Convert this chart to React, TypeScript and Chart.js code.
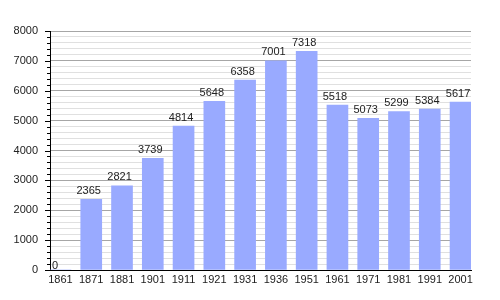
import React, { useEffect, useRef } from "react";
import { Chart, registerables } from "chart.js";

Chart.register(...registerables);

const years = ["1861", "1871", "1881", "1901", "1911", "1921", "1931", "1936", "1951", "1961", "1971", "1981", "1991", "2001"];
const population = [0, 2365, 2821, 3739, 4814, 5648, 6358, 7001, 7318, 5518, 5073, 5299, 5384, 5617];
const yMax = 8000;
const yMajorStep = 1000;
const yMinorStep = 200;

const FONT = "'Liberation Sans', Arial, sans-serif";

const overlayPlugin = {
  id: "overlay",
  afterDraw(chart: any) {
    const { ctx, scales } = chart;
    const y = scales.y;
    const left = chart.chartArea.left;
    ctx.save();
    ctx.strokeStyle = "#000";
    ctx.lineWidth = 1;
    for (let v = 0; v <= yMax; v += yMinorStep) {
      const py = Math.round(y.getPixelForValue(v)) + 0.5;
      const len = v % yMajorStep === 0 ? 5 : 3;
      ctx.beginPath();
      ctx.moveTo(left - len, py);
      ctx.lineTo(left, py);
      ctx.stroke();
    }
    ctx.restore();
  },
  afterDatasetsDraw(chart: any) {
    const { ctx } = chart;
    const meta = chart.getDatasetMeta(0);
    ctx.save();
    ctx.font = `11px ${FONT}`;
    ctx.fillStyle = "#222";
    ctx.textBaseline = "bottom";
    meta.data.forEach((el: any, i: number) => {
      const v = population[i];
      const txt = String(v);
      if (v === 0) {
        ctx.textAlign = "left";
        ctx.fillText(txt, el.x - el.width / 2 + 2, el.y + 1);
      } else {
        ctx.textAlign = "center";
        ctx.fillText(txt, el.x - 2.5, el.y - 3);
      }
    });
    ctx.restore();
  },
};

export default function App() {
  const ref = useRef<HTMLCanvasElement>(null);
  useEffect(() => {
    document.body.style.margin = "0";
    const canvas = ref.current!;
    const chart = new Chart(canvas, {
      type: "bar",
      data: {
        datasets: [
          {
            data: population.map((v, i) => ({ x: i, y: v })),
            backgroundColor: "#99aaff",
            borderWidth: 0,
            barThickness: 21,
          },
        ],
      },
      options: {
        responsive: false,
        animation: false,
        layout: { padding: { top: 31, right: 29, left: 0, bottom: 0 } },
        plugins: { legend: { display: false }, tooltip: { enabled: false } },
        scales: {
          x: {
            type: "linear",
            offset: false,
            min: -0.34,
            max: 13.34,
            afterBuildTicks: (scale: any) => {
              scale.ticks = years.map((_, i) => ({ value: i }));
            },
            afterFit: (scale: any) => {
              scale.height = 30;
            },
            grid: { display: false, drawTicks: false, offset: false },
            border: { color: "#000", width: 1 },
            ticks: {
              autoSkip: false,
              maxRotation: 0,
              padding: 3,
              color: "#222",
              font: { family: FONT, size: 11 },
              callback: (v: any) => years[v as number] ?? "",
            },
          },
          y: {
            min: 0,
            max: yMax,
            afterBuildTicks: (scale: any) => {
              const t = [];
              for (let v = 0; v <= yMax; v += yMinorStep) t.push({ value: v });
              scale.ticks = t;
            },
            afterFit: (scale: any) => {
              scale.width = 50;
            },
            grid: {
              drawTicks: false,
              color: (c: any) => (c.tick && c.tick.value % yMajorStep === 0 ? "#a6a6a6" : "#e0e0e0"),
              lineWidth: 1,
            },
            border: { color: "#000", width: 1 },
            ticks: {
              autoSkip: false,
              padding: 12,
              color: "#222",
              font: { family: FONT, size: 11 },
              callback: (v: any) => ((v as number) % yMajorStep === 0 ? String(v) : ""),
            },
          },
        },
      },
      plugins: [overlayPlugin],
    });
    return () => chart.destroy();
  }, []);
  return (
    <div style={{ position: "absolute", left: 0, top: 0, width: 500, height: 300, background: "#fff" }}>
      <canvas ref={ref} width={500} height={300} />
    </div>
  );
}
